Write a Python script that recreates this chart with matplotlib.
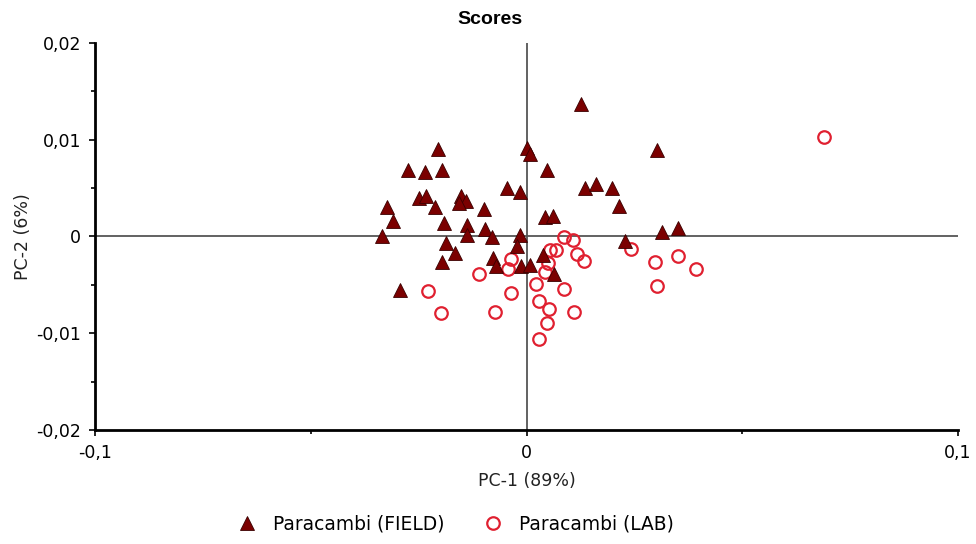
import matplotlib
matplotlib.use("Agg")
import matplotlib.pyplot as plt
from matplotlib.lines import Line2D

# Paracambi (FIELD) scores
field_pc1 = [-0.0205, -0.0275, -0.0236, -0.0195, 0.0002, 0.0009, 0.0047, -0.0046,
             -0.0016, -0.0250, -0.0234, -0.0152, -0.0141, -0.0156, -0.0213, -0.0324,
             -0.0310, -0.0191, -0.0098, -0.0138, -0.0096, -0.0334, -0.0137, -0.0079,
             -0.0014, 0.0044, 0.0061, -0.0187, -0.0166, -0.0195, -0.0077, -0.0071,
             -0.0022, -0.0012, 0.0007, 0.0038, 0.0063, -0.0294, 0.0127, 0.0302,
             0.0135, 0.0162, 0.0197, 0.0214, 0.0315, 0.0351, 0.0228]
field_pc2 = [0.0090, 0.0069, 0.0067, 0.0069, 0.0091, 0.0085, 0.0069, 0.0050,
             0.0046, 0.0040, 0.0042, 0.0042, 0.0037, 0.0035, 0.0031, 0.0031,
             0.0016, 0.0014, 0.0028, 0.0012, 0.0008, 0.0001, 0.0002, -0.0001,
             0.0002, 0.0020, 0.0021, -0.0007, -0.0017, -0.0026, -0.0022, -0.0030,
             -0.0010, -0.0030, -0.0029, -0.0019, -0.0039, -0.0055, 0.0137, 0.0089,
             0.0050, 0.0054, 0.0050, 0.0032, 0.0005, 0.0009, -0.0005]

# Paracambi (LAB) scores
lab_pc1 = [0.0690, 0.0087, 0.0108, 0.0054, 0.0068, 0.0242, 0.0116, 0.0133,
           -0.0036, 0.0050, -0.0044, -0.0111, 0.0297, 0.0350, 0.0393, 0.0042,
           0.0021, 0.0302, 0.0087, -0.0037, -0.0228, 0.0029, 0.0052, 0.0110,
           -0.0072, -0.0197, 0.0048, 0.0030]
lab_pc2 = [0.0103, -0.0001, -0.0004, -0.0014, -0.0014, -0.0013, -0.0018, -0.0025,
           -0.0023, -0.0027, -0.0034, -0.0039, -0.0026, -0.0020, -0.0034, -0.0037,
           -0.0049, -0.0051, -0.0054, -0.0058, -0.0056, -0.0067, -0.0075, -0.0078,
           -0.0078, -0.0079, -0.0089, -0.0106]

xticks = [-0.1, 0, 0.1]
xtick_labels = ["-0,1", "0", "0,1"]
yticks = [-0.02, -0.01, 0, 0.01, 0.02]
ytick_labels = ["-0,02", "-0,01", "0", "0,01", "0,02"]

field_color = "#7b0000"
lab_color = "#e02030"

fig = plt.figure(figsize=(9.76, 5.44), dpi=100)
ax = fig.add_axes([95 / 976, 1 - 430 / 544, 863 / 976, 387 / 544])

ax.axhline(0, color="#555555", lw=1.3, zorder=1)
ax.axvline(0, color="#555555", lw=1.3, zorder=1)

ax.plot(lab_pc1, lab_pc2, "o", ms=9, mfc="none", mec=lab_color, mew=1.6,
        linestyle="none", zorder=2)
ax.plot(field_pc1, field_pc2, "^", ms=10, color=field_color, mec="#3a0000",
        mew=0.6, linestyle="none", zorder=3)

ax.set_xlim(-0.1, 0.1)
ax.set_ylim(-0.02, 0.02)
ax.set_xticks(xticks)
ax.set_xticklabels(xtick_labels, fontsize=12.5)
ax.set_yticks(yticks)
ax.set_yticklabels(ytick_labels, fontsize=12.5)
ax.set_xticks([-0.05, 0.05], minor=True)
ax.set_yticks([-0.015, -0.005, 0.005, 0.015], minor=True)
ax.tick_params(which="major", length=4, width=1.2, direction="out")
ax.tick_params(axis="x", which="major", pad=6)
ax.tick_params(axis="y", which="major", pad=6)
ax.tick_params(which="minor", length=3, width=1.2, direction="out")

for s in ["top", "right"]:
    ax.spines[s].set_visible(False)
for s in ["left", "bottom"]:
    ax.spines[s].set_linewidth(2)

ax.set_xlabel("PC-1 (89%)", fontsize=12.5, labelpad=7, color="#222222")
ax.set_ylabel("PC-2 (6%)", fontsize=12.5, labelpad=3, color="#222222")

fig.text(490 / 976, 1 - 19 / 544, "Scores", fontsize=14, fontweight="bold",
         family="Liberation Sans", ha="center", va="center")

handles = [
    Line2D([], [], marker="^", color=field_color, mec="#3a0000", mew=0.6,
           ms=10, linestyle="none"),
    Line2D([], [], marker="o", mfc="none", mec=lab_color, mew=1.6,
           ms=9, linestyle="none"),
]
fig.legend(handles, ["Paracambi (FIELD)", "Paracambi (LAB)"], ncol=2,
           loc="center", bbox_to_anchor=(456 / 976, 1 - 524 / 544),
           frameon=False, fontsize=13.4, columnspacing=2.1,
           handlelength=1.0, handletextpad=0.9)

fig.savefig("out.png", dpi=100)
